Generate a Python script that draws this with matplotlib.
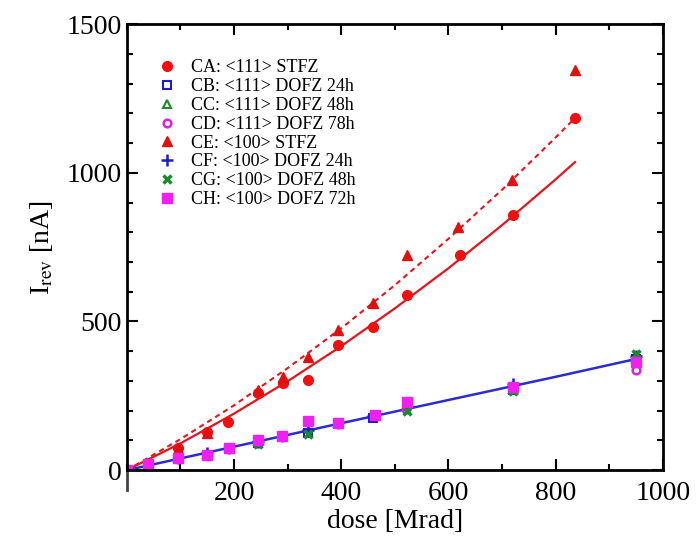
import numpy as np
import matplotlib
matplotlib.use('Agg')
import matplotlib.pyplot as plt
from matplotlib.ticker import MultipleLocator

plt.rcParams['font.family'] = ['Liberation Serif', 'DejaVu Serif']
plt.rcParams['mathtext.fontset'] = 'stix'

# reverse current vs dose
ca_dose = [0, 40, 95, 149, 188, 245, 291, 338, 394, 459, 522, 621, 720, 836]
ca_cur = [0, 22, 74, 129, 162, 259, 293, 303, 420, 481, 589, 723, 858, 1184]

ce_dose = [0, 40, 95, 150, 245, 291, 338, 394, 459, 522, 618, 718, 836]
ce_cur = [0, 25, 70, 125, 270, 315, 380, 471, 562, 723, 817, 975, 1345]

cb_dose = [0, 95, 190, 245, 338, 459, 720, 950]
cb_cur = [0, 38, 72, 92, 125, 175, 268, 375]

cc_dose = [0, 150, 245, 395, 720, 950]
cc_cur = [0, 55, 98, 158, 272, 380]

cd_dose = [0, 95, 190, 290, 395, 520, 720, 950]
cd_cur = [0, 36, 70, 110, 155, 205, 282, 336]

cf_dose = [0, 150, 245, 338, 459, 720, 950]
cf_cur = [0, 58, 96, 135, 182, 290, 385]

cg_dose = [0, 95, 245, 338, 522, 720, 950]
cg_cur = [0, 40, 88, 122, 200, 265, 392]

ch_dose = [0, 40, 95, 150, 190, 245, 290, 338, 395, 463, 522, 720, 950]
ch_cur = [0, 20, 40, 50, 74, 100, 115, 165, 158, 185, 229, 279, 363]

# fit curves
fit_a_dose = [0, 100, 200, 300, 400, 500, 600, 700, 800, 836]
fit_a_cur = [0, 90, 190, 299, 417, 544, 679, 824, 978, 1036]
fit_e_dose = [0, 100, 200, 300, 400, 500, 600, 700, 800, 836]
fit_e_cur = [0, 104, 218, 343, 477, 622, 778, 943, 1119, 1184]
fit_b_dose = [0, 200, 400, 600, 800, 940]
fit_b_cur = [0, 79, 158, 236, 314, 370]

fig = plt.figure(figsize=(7, 5.48), dpi=100)
ax = fig.add_axes([0.181, 0.142, 0.766, 0.814])

ax.plot(fit_a_dose, fit_a_cur, '-', color='#e8141c', lw=1.6)
ax.plot(fit_e_dose, fit_e_cur, '--', color='#e8141c', lw=1.5, dashes=(2.5, 2))
ax.plot(fit_b_dose, fit_b_cur, '-', color='#2b2bd0', lw=1.8)

ms = 7
ax.plot(ca_dose, ca_cur, 'o', color='#f01010', ms=ms, label='CA: <111> STFZ')
ax.plot(cb_dose, cb_cur, 's', mfc='none', mec='#1c1cc8', mew=1.5, ms=ms - 1, label='CB: <111> DOFZ 24h')
ax.plot(cc_dose, cc_cur, '^', mfc='none', mec='#1a8a2a', mew=1.5, ms=ms - 1, label='CC: <111> DOFZ 48h')
ax.plot(cd_dose, cd_cur, 'o', mfc='none', mec='#e020e0', mew=1.8, ms=ms - 1.5, label='CD: <111> DOFZ 78h')
ax.plot(ce_dose, ce_cur, '^', color='#e01010', ms=ms + 0.5, label='CE: <100> STFZ')
ax.plot(cf_dose, cf_cur, '+', color='#1c1cc8', mew=1.8, ms=ms + 1, label='CF: <100> DOFZ 24h')
ax.plot(cg_dose, cg_cur, 'x', color='#1a8a2a', mew=2.5, ms=ms - 1, label='CG: <100> DOFZ 48h')
ax.plot(ch_dose, ch_cur, 's', color='#f020f0', ms=ms - 0.5, label='CH: <100> DOFZ 72h')

ax.set_xlim(0, 1000)
ax.set_ylim(0, 1500)
ax.set_xticks([200, 400, 600, 800, 1000])
ax.set_yticks([0, 500, 1000, 1500])
ax.xaxis.set_minor_locator(MultipleLocator(100))
ax.yaxis.set_minor_locator(MultipleLocator(100))
ax.tick_params(which='both', direction='in', top=True, right=True, labelsize=20, width=1.5)
ax.tick_params(which='major', length=8)
ax.tick_params(which='minor', length=4)
ax.tick_params(axis='x', pad=8)
for s in ax.spines.values():
    s.set_linewidth(2)

ax.axvline(0, ymin=-0.045, ymax=0, color='#444444', lw=2, clip_on=False)

ax.set_xlabel('dose [Mrad]', fontsize=20, labelpad=2)
ax.set_ylabel(r'I$_{\rm rev}$ [nA]', fontsize=20, labelpad=8)

ax.legend(loc='upper left', bbox_to_anchor=(0.045, 0.937), frameon=False, fontsize=13,
          handlelength=1.0, handletextpad=0.8, labelspacing=0.1, borderaxespad=0)

fig.savefig('out.png', dpi=100)
